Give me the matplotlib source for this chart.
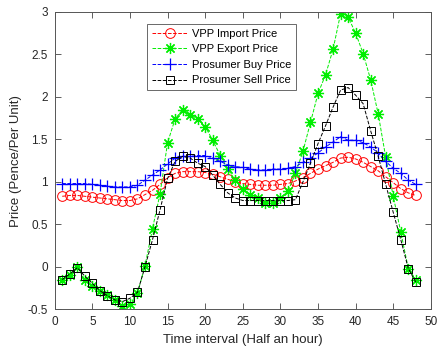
import matplotlib
matplotlib.use("Agg")
import matplotlib.pyplot as plt

plt.rcParams['font.family'] = ['Liberation Sans', 'DejaVu Sans']

t = list(range(1, 49))

vpp_import = [0.83, 0.84, 0.84, 0.83, 0.82, 0.81, 0.80, 0.79, 0.78, 0.78, 0.80, 0.85,
              0.90, 0.97, 1.05, 1.10, 1.12, 1.12, 1.12, 1.11, 1.09, 1.06, 1.03, 1.00,
              0.98, 0.97, 0.96, 0.96, 0.96, 0.97, 0.98, 1.01, 1.05, 1.10, 1.15, 1.19,
              1.23, 1.28, 1.29, 1.27, 1.23, 1.18, 1.13, 1.06, 0.99, 0.92, 0.87, 0.84]

vpp_export = [-0.16, -0.10, 0.00, -0.15, -0.23, -0.29, -0.33, -0.39, -0.46, -0.44, -0.31, 0.01,
              0.45, 0.86, 1.46, 1.74, 1.85, 1.79, 1.74, 1.65, 1.49, 1.31, 1.15, 1.02,
              0.91, 0.85, 0.81, 0.75, 0.755, 0.81, 0.89, 1.10, 1.36, 1.70, 2.04, 2.26,
              2.56, 2.98, 2.94, 2.75, 2.51, 2.20, 1.80, 1.29, 0.83, 0.41, -0.02, -0.15]

prosumer_buy = [0.98, 0.98, 0.98, 0.98, 0.97, 0.96, 0.95, 0.94, 0.94, 0.94, 0.96, 1.02,
                1.08, 1.14, 1.21, 1.28, 1.30, 1.30, 1.31, 1.31, 1.28, 1.24, 1.20, 1.18,
                1.17, 1.15, 1.14, 1.14, 1.15, 1.15, 1.16, 1.18, 1.23, 1.28, 1.34, 1.41,
                1.47, 1.53, 1.49, 1.49, 1.46, 1.41, 1.34, 1.24, 1.16, 1.10, 1.02, 0.97]

prosumer_sell = [-0.15, -0.085, -0.01, -0.11, -0.195, -0.28, -0.34, -0.39, -0.41, -0.37, -0.30, 0.00,
                 0.32, 0.67, 1.04, 1.24, 1.30, 1.28, 1.22, 1.18, 1.08, 0.97, 0.87, 0.81,
                 0.78, 0.78, 0.78, 0.78, 0.78, 0.78, 0.78, 0.79, 1.00, 1.22, 1.45, 1.66,
                 1.88, 2.08, 2.11, 2.02, 1.92, 1.60, 1.30, 0.97, 0.64, 0.32, -0.02, -0.18]

series_labels = ['VPP Import Price', 'VPP Export Price', 'Prosumer Buy Price', 'Prosumer Sell Price']
x_ticks = list(range(0, 51, 5))
y_ticks = [-0.5, 0, 0.5, 1, 1.5, 2, 2.5, 3]
y_tick_labels = ['-0.5', '0', '0.5', '1', '1.5', '2', '2.5', '3']

fig = plt.figure(figsize=(4.42, 3.49), dpi=100)
ax = fig.add_axes([0.1238, 0.1138, 0.851, 0.852])

lw = 0.7
asterisk = (8, 2, 0)
ax.plot(t, vpp_import, '--', marker='o', color='#ff0000', mfc='none', mec='#ff0000', ms=7, mew=0.7, lw=lw, label=series_labels[0])
ax.plot(t, vpp_export, '--', marker=asterisk, color='#00ee00', mec='#00ee00', ms=8, mew=0.9, lw=lw, label=series_labels[1])
ax.plot(t, prosumer_buy, '--', marker='+', color='#0000ff', mec='#0000ff', ms=8.5, mew=0.9, lw=lw, label=series_labels[2])
ax.plot(t, prosumer_sell, '--', marker='s', color='#000000', mfc='none', mec='#000000', ms=5.5, mew=0.7, lw=lw, label=series_labels[3])

ax.set_xlim(0, 50)
ax.set_ylim(-0.5, 3)
ax.set_xticks(x_ticks)
ax.set_yticks(y_ticks)
ax.set_yticklabels(y_tick_labels)

for s in ax.spines.values():
    s.set_color('#555555')
    s.set_linewidth(0.7)
ax.tick_params(direction='in', top=True, right=True, length=4, width=0.6,
               colors='#444444', labelsize=8.5, labelcolor='#262626', pad=5)

ax.set_xlabel('Time interval (Half an hour)', fontsize=9.5, color='#262626', labelpad=4)
ax.set_ylabel('Price (Pence/Per Unit)', fontsize=9.5, color='#262626', labelpad=4)

leg = ax.legend(loc='upper left', bbox_to_anchor=(0.245, 0.96), fontsize=8,
                frameon=True, fancybox=False, edgecolor='#262626', borderpad=0.45,
                labelspacing=0.5, handlelength=3.2, handletextpad=0.4, borderaxespad=0)
leg.get_frame().set_linewidth(0.6)

fig.savefig('out.png', dpi=100)
